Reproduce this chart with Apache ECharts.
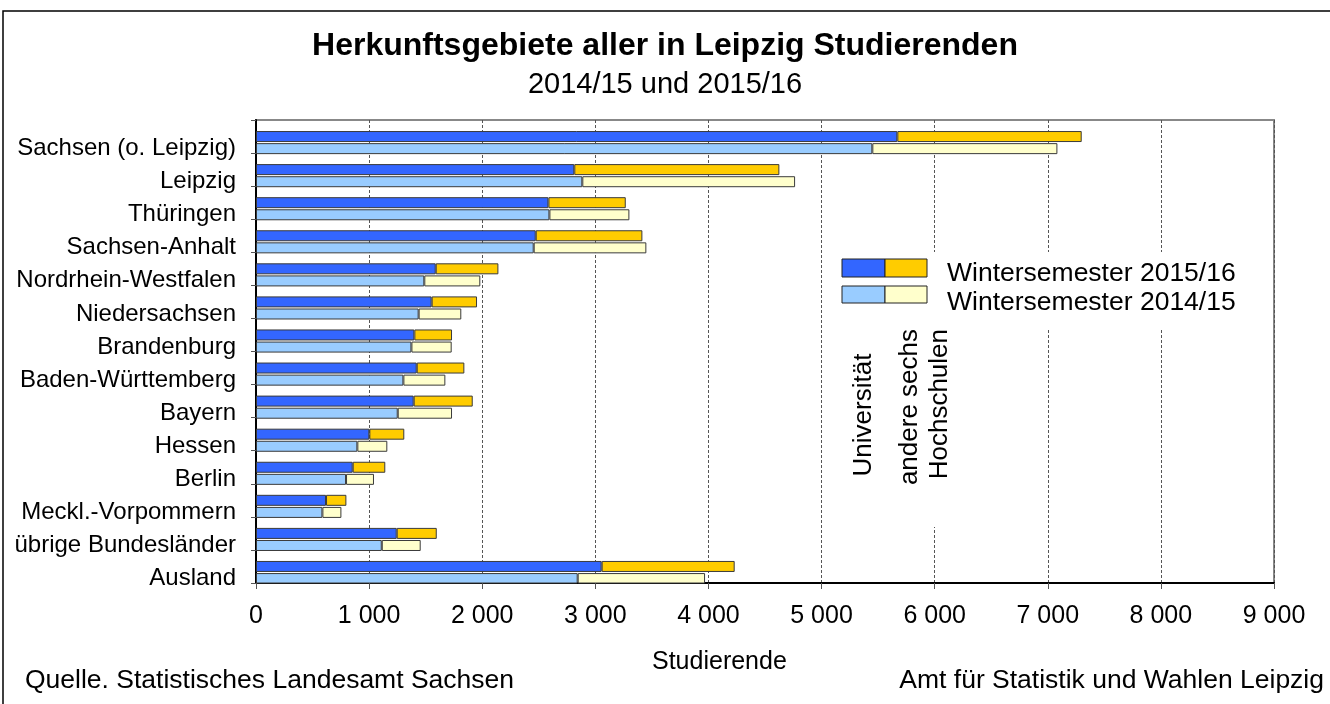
<!DOCTYPE html>
<html>
<head>
<meta charset="utf-8">
<script src="https://cdn.jsdelivr.net/npm/echarts@6/dist/echarts.min.js"></script>
<style>
  html, body { margin: 0; padding: 0; background: #fff; }
  #main { width: 1330px; height: 704px; }
</style>
</head>
<body>
<div id="main"></div>
<script>
// Herkunftsgebiete der Studierenden, Reihenfolge von oben nach unten
var categories = ['Sachsen (o. Leipzig)', 'Leipzig', 'Thüringen', 'Sachsen-Anhalt', 'Nordrhein-Westfalen',
  'Niedersachsen', 'Brandenburg', 'Baden-Württemberg', 'Bayern', 'Hessen', 'Berlin',
  'Meckl.-Vorpommern', 'übrige Bundesländer', 'Ausland'];

// WS 2015/16
var uni2015 = [5670, 2814, 2585, 2473, 1589, 1553, 1400, 1421, 1394, 1002, 855, 619, 1244, 3056];
var andere2015 = [1630, 1813, 684, 943, 554, 401, 333, 421, 522, 309, 288, 180, 354, 1176];
// WS 2014/15
var uni2014 = [5449, 2885, 2594, 2455, 1488, 1438, 1374, 1303, 1253, 896, 796, 587, 1112, 2844];
var andere2014 = [1636, 1881, 707, 996, 495, 377, 356, 371, 480, 265, 247, 168, 344, 1126];

var xTicks = [0, 1000, 2000, 3000, 4000, 5000, 6000, 7000, 8000, 9000];

var FONT = 'Liberation Sans, Arial, sans-serif';
var chart = echarts.init(document.getElementById('main'));

function fmt(v) {
  return String(v).replace(/\B(?=(\d{3})+(?!\d))/g, ' ');
}

function barSeries(name, data, stack, color) {
  return {
    name: name,
    type: 'bar',
    stack: stack,
    data: data,
    barWidth: 11,
    itemStyle: { color: color, borderColor: '#3a3a3a', borderWidth: 1 },
    emphasis: { disabled: true }
  };
}

var option = {
  animation: false,
  backgroundColor: '#fff',
  title: [{
    text: 'Herkunftsgebiete aller in Leipzig Studierenden',
    left: 'center', top: 30, padding: 0,
    textStyle: { fontFamily: FONT, fontSize: 32, fontWeight: 'bold', color: '#000' }
  }, {
    text: '2014/15 und 2015/16',
    left: 'center', top: 70, padding: 0,
    textStyle: { fontFamily: FONT, fontSize: 29, fontWeight: 'normal', color: '#000' }
  }, {
    text: 'Studierende',
    left: 652, top: 650, padding: 0,
    textStyle: { fontFamily: FONT, fontSize: 25, fontWeight: 'normal', color: '#000' }
  }, {
    text: 'Quelle. Statistisches Landesamt Sachsen',
    left: 25, top: 667, padding: 0,
    textStyle: { fontFamily: FONT, fontSize: 26.5, fontWeight: 'normal', color: '#000' }
  }, {
    text: 'Amt für Statistik und Wahlen Leipzig',
    right: 6, top: 667, padding: 0,
    textStyle: { fontFamily: FONT, fontSize: 26.5, fontWeight: 'normal', color: '#000' }
  }],
  grid: {
    left: 256, right: 56, top: 120, bottom: 121,
    show: true, borderColor: '#888', borderWidth: 2, backgroundColor: '#fff'
  },
  xAxis: {
    type: 'value',
    min: 0, max: 9000, interval: 1000,
    axisLine: { show: true, lineStyle: { color: '#000', width: 2 } },
    axisTick: { show: true, length: 6, lineStyle: { color: '#555' } },
    axisLabel: {
      margin: 21, fontFamily: FONT, fontSize: 25, color: '#000',
      formatter: function (v) { return xTicks.indexOf(v) >= 0 ? fmt(v) : ''; }
    },
    splitLine: { show: true, lineStyle: { color: '#555', type: [3, 2], width: 1 } }
  },
  yAxis: {
    type: 'category',
    inverse: true,
    data: categories,
    axisLine: { show: true, lineStyle: { color: '#000', width: 2 } },
    axisTick: { show: true, length: 5, lineStyle: { color: '#555' } },
    axisLabel: {
      margin: 20, fontFamily: FONT, fontSize: 24, color: '#000',
      verticalAlign: 'top', lineHeight: 24
    }
  },
  series: [
    // leerer Platz oberhalb jedes Balkenpaars
    { name: 'gap', type: 'bar', stack: 'gap', barWidth: 11, data: [], silent: true },
    barSeries('Universität 2015/16', uni2015, 'ws15', '#3366ff'),
    barSeries('andere 2015/16', andere2015, 'ws15', '#ffcc00'),
    barSeries('Universität 2014/15', uni2014, 'ws14', '#99ccff'),
    barSeries('andere 2014/15', andere2014, 'ws14', '#ffffcc')
  ],
  graphic: [
    // äußerer Rahmen
    { type: 'rect', shape: { x: 3, y: 11, width: 1340, height: 720 }, style: { fill: 'none', stroke: '#000', lineWidth: 1.5 }, z: 10, silent: true },
    // Hintergrund der Legende
    { type: 'rect', shape: { x: 832, y: 252, width: 436, height: 76 }, style: { fill: '#fff' }, z: 1, silent: true },
    { type: 'rect', shape: { x: 846, y: 328, width: 108, height: 199 }, style: { fill: '#fff' }, z: 1, silent: true },
    { type: 'rect', shape: { x: 842, y: 259, width: 43, height: 18 }, style: { fill: '#3366ff', stroke: '#222', lineWidth: 1 }, z: 3 },
    { type: 'rect', shape: { x: 885, y: 259, width: 42, height: 18 }, style: { fill: '#ffcc00', stroke: '#222', lineWidth: 1 }, z: 3 },
    { type: 'rect', shape: { x: 842, y: 286, width: 43, height: 17 }, style: { fill: '#99ccff', stroke: '#222', lineWidth: 1 }, z: 3 },
    { type: 'rect', shape: { x: 885, y: 286, width: 42, height: 17 }, style: { fill: '#ffffcc', stroke: '#222', lineWidth: 1 }, z: 3 },
    { type: 'text', x: 947, y: 274, z: 3, style: { text: 'Wintersemester 2015/16', fontFamily: FONT, fontSize: 26.5, fill: '#000', verticalAlign: 'middle' } },
    { type: 'text', x: 947, y: 303, z: 3, style: { text: 'Wintersemester 2014/15', fontFamily: FONT, fontSize: 26.5, fill: '#000', verticalAlign: 'middle' } },
    { type: 'text', x: 864, y: 415, rotation: Math.PI / 2, z: 3, style: { text: 'Universität', fontFamily: FONT, fontSize: 26, fill: '#000', align: 'center', verticalAlign: 'middle' } },
    { type: 'text', x: 925, y: 329, rotation: Math.PI / 2, z: 3, style: { text: 'andere sechs\nHochschulen', fontFamily: FONT, fontSize: 26, lineHeight: 30, fill: '#000', align: 'right', verticalAlign: 'middle' } }
  ]
};

chart.setOption(option);
</script>
</body>
</html>
